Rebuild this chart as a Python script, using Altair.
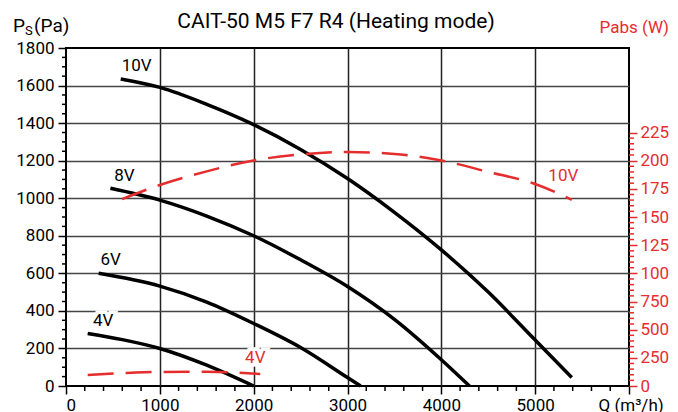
import altair as alt
import pandas as pd

# ---- Static pressure curves Ps (Pa) vs airflow Q (m3/h) ----
q_10v = [583, 1000, 1500, 2000, 2500, 3000, 3500, 4000, 4500, 5000, 5390]
ps_10v = [1635, 1590, 1500, 1392, 1260, 1105, 925, 725, 500, 245, 45]
q_8v = [473, 1000, 1500, 2000, 2500, 3000, 3500, 4000, 4300]
ps_8v = [1053, 990, 905, 800, 672, 530, 355, 140, 0]
q_6v = [348, 1000, 1500, 2000, 2500, 3000, 3140]
ps_6v = [600, 532, 447, 333, 205, 45, 0]
q_4v = [231, 600, 1000, 1500, 2000]
ps_4v = [280, 247, 200, 111, 0]

# ---- Absorbed power curves Pabs (W) ----
qp_10v = [597, 1000, 1500, 2000, 2500, 3000, 3500, 4000, 4500, 5000, 5390]
pw_10v = [1659, 1784, 1905, 2002, 2055, 2077, 2060, 2002, 1900, 1793, 1653]
qp_4v = [231, 700, 1000, 1500, 2070]
pw_4v = [98, 118, 125, 126, 107]

# ---- Labels ----
ps_label_text = ["10V", "8V", "6V", "4V"]
ps_label_q = [753, 622, 476, 395]
ps_label_val = [1706, 1119, 671, 344]
pw_label_text = ["10V", "4V"]
pw_label_q = [5300, 2017]
pw_label_val = [1868, 251]

# ---- Axis ticks ----
x_major = list(range(0, 6001, 1000))
x_minor = [v for v in range(0, 6001, 200) if v % 1000]
yl_major = list(range(0, 1801, 200))
yl_minor = [v for v in range(0, 1801, 50) if v % 200]
yr_major = list(range(0, 2251, 250))
yr_minor = [v for v in range(0, 2251, 50) if v % 250]

title_text = "CAIT-50 M5 F7 R4 (Heating mode)"
RED = "#e52d2d"
FONT = "Roboto"
W, H = 563, 338

ps_rows = []
for name, qs, vs in [("10V", q_10v, ps_10v), ("8V", q_8v, ps_8v),
                     ("6V", q_6v, ps_6v), ("4V", q_4v, ps_4v)]:
    for i, (q, v) in enumerate(zip(qs, vs)):
        ps_rows.append({"speed": name, "Q": q, "Ps": v, "i": i})
ps_df = pd.DataFrame(ps_rows)

pw_rows = []
for name, qs, vs in [("10V", qp_10v, pw_10v), ("4V", qp_4v, pw_4v)]:
    for i, (q, v) in enumerate(zip(qs, vs)):
        pw_rows.append({"speed": name, "Q": q, "Pw": v, "i": i})
pw_df = pd.DataFrame(pw_rows)

ps_lab = pd.DataFrame({"t": ps_label_text, "Q": ps_label_q, "Ps": ps_label_val})
pw_lab = pd.DataFrame({"t": pw_label_text, "Q": pw_label_q, "Pw": pw_label_val})

x_axis = alt.Axis(
    values=x_major,
    labelExpr="datum.value < 6000 ? datum.label : ''",
    format="d",
    domain=False,
    tickColor="black",
    tickWidth=1.5,
    tickSize=8,
    labelPadding=3,
    labelFont=FONT,
    labelFontSize=17,
    labelColor="black",
    grid=True,
    gridColor="#222",
    gridWidth=1.5,
    gridOpacity={"condition": {"test": "datum.value > 0 && datum.value < 6000", "value": 1}, "value": 0},
    title="Q (m³/h)",
    titleFont=FONT,
    titleFontSize=17,
    titleFontWeight="normal",
    titleColor="black",
    titleAngle=0,
    titleAlign="left",
    titleBaseline="top",
    titleX=532,
    titleY=11,
)
x_enc = alt.X("Q:Q", scale=alt.Scale(domain=[0, 6000], nice=False), axis=x_axis)

y_left_axis = alt.Axis(
    values=yl_major,
    format="d",
    domain=False,
    tickColor="black",
    tickWidth=1.5,
    tickSize=8,
    labelPadding=4,
    labelFont=FONT,
    labelFontSize=17,
    labelColor="black",
    grid=True,
    gridColor="#444",
    gridWidth=1.5,
    gridOpacity={"condition": {"test": "datum.value > 0 && datum.value < 1800", "value": 1}, "value": 0},
    title=None,
)
y_left = alt.Y("Ps:Q", scale=alt.Scale(domain=[0, 1800], nice=False), axis=y_left_axis)

y_right_axis = alt.Axis(
    orient="right",
    values=yr_major,
    format="d",
    domain=False,
    tickColor=RED,
    tickWidth=1.5,
    tickSize=8,
    labelPadding=3,
    labelFont=FONT,
    labelFontSize=17,
    labelColor=RED,
    grid=False,
    title="Pabs (W)",
    titleFont=FONT,
    titleFontSize=17,
    titleFontWeight="normal",
    titleColor=RED,
    titleAngle=0,
    titleAlign="left",
    titleBaseline="alphabetic",
    titleX=-30,
    titleY=-16,
)
y_right = alt.Y("Pw:Q", scale=alt.Scale(domain=[0, 3000], nice=False), axis=y_right_axis)

ps_lines = alt.Chart(ps_df).mark_line(
    color="black", strokeWidth=3.5, interpolate="monotone"
).encode(x=x_enc, y=y_left, detail="speed:N", order="i:Q")

ps_halo = alt.Chart(ps_lab).mark_text(
    font=FONT, fontSize=17, color="white", stroke="white", strokeWidth=7,
    align="center", baseline="middle"
).encode(x=x_enc, y=y_left, text="t:N")
ps_text = alt.Chart(ps_lab).mark_text(
    font=FONT, fontSize=17, color="black", align="center", baseline="middle"
).encode(x=x_enc, y=y_left, text="t:N")

# minor ticks
xmin_ticks = alt.Chart(pd.DataFrame({"Q": x_minor})).mark_rule(
    color="black", strokeWidth=1.5
).encode(x=x_enc, y=alt.value(H), y2=alt.value(H + 5))
ylmin_ticks = alt.Chart(pd.DataFrame({"Ps": yl_minor})).mark_rule(
    color="black", strokeWidth=1.5
).encode(y=y_left, x=alt.value(-4), x2=alt.value(0))

hdr = pd.DataFrame({"a": [0]})
title_mark = alt.Chart(hdr).mark_text(
    font=FONT, fontSize=21, color="black", align="center", baseline="alphabetic"
).encode(x=alt.value(270), y=alt.value(-20), text=alt.value(title_text))
p_mark = alt.Chart(hdr).mark_text(
    font=FONT, fontSize=19, color="black", align="left", baseline="alphabetic"
).encode(x=alt.value(-53), y=alt.value(-16), text=alt.value("P"))
s_mark = alt.Chart(hdr).mark_text(
    font=FONT, fontSize=13, color="black", align="left", baseline="alphabetic"
).encode(x=alt.value(-41), y=alt.value(-13), text=alt.value("S"))
pa_mark = alt.Chart(hdr).mark_text(
    font=FONT, fontSize=19, color="black", align="left", baseline="alphabetic"
).encode(x=alt.value(-32), y=alt.value(-16), text=alt.value("(Pa)"))

left = alt.layer(ps_lines, ps_halo, ps_text, xmin_ticks, ylmin_ticks,
                 title_mark, p_mark, s_mark, pa_mark)

pw_lines = alt.Chart(pw_df).mark_line(
    color=RED, strokeWidth=2.5, strokeDash=[26, 12], interpolate="monotone"
).encode(x=x_enc, y=y_right, detail="speed:N", order="i:Q")
pw_halo = alt.Chart(pw_lab).mark_text(
    font=FONT, fontSize=17, color="white", stroke="white", strokeWidth=7,
    align="center", baseline="middle"
).encode(x=x_enc, y=y_right, text="t:N")
pw_text = alt.Chart(pw_lab).mark_text(
    font=FONT, fontSize=17, color=RED, align="center", baseline="middle"
).encode(x=x_enc, y=y_right, text="t:N")
yrmin_ticks = alt.Chart(pd.DataFrame({"Pw": yr_minor})).mark_rule(
    color=RED, strokeWidth=1.5
).encode(y=y_right, x=alt.value(W), x2=alt.value(W + 5))

right = alt.layer(pw_lines, pw_halo, pw_text, yrmin_ticks)

chart = alt.layer(left, right).resolve_scale(y="independent").properties(
    width=W,
    height=H,
    padding={"left": 58, "top": 40, "right": 41, "bottom": 40},
    autosize=alt.AutoSizeParams(type="none"),
    background="white",
).configure_view(stroke="black", strokeWidth=2)

chart.save("out.html", embed_options={"renderer": "svg", "actions": False})
